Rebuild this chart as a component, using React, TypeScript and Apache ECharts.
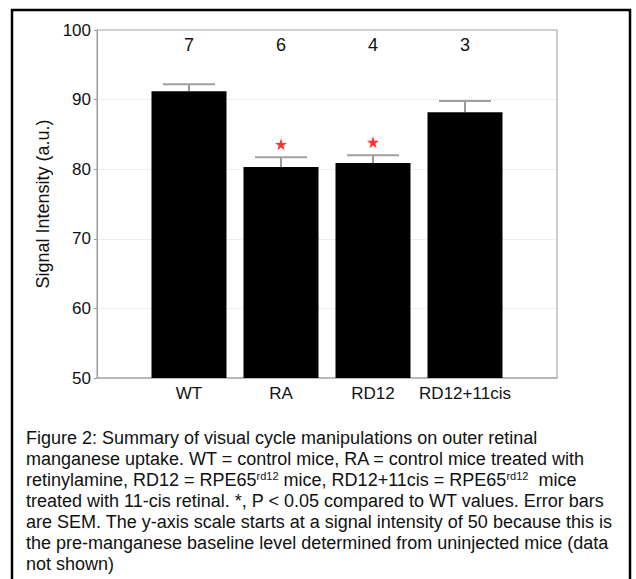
import React, { useEffect, useRef } from 'react';
import * as echarts from 'echarts';

// ---- data ----
const categories = ['WT', 'RA', 'RD12', 'RD12+11cis'];
const means = [91.2, 80.3, 80.9, 88.2];
const sems = [1.0, 1.4, 1.1, 1.6];
const nCounts = [7, 6, 4, 3];
const significant = [false, true, true, false];
const yMin = 50;
const yMax = 100;
const yInterval = 10;
const yTitle = 'Signal Intensity (a.u.)';
const captionLines = [
  'Figure 2: Summary of visual cycle manipulations on outer retinal',
  'manganese uptake. WT = control mice, RA = control mice treated with',
  'retinylamine, RD12 = RPE65{sup|rd12} mice, RD12+11cis = RPE65{sup|rd12}  mice',
  'treated with 11-cis retinal. *, P < 0.05 compared to WT values. Error bars',
  'are SEM. The y-axis scale starts at a signal intensity of 50 because this is',
  'the pre-manganese baseline level determined from uninjected mice (data',
  'not shown)',
];

const STAR =
  'path://M50,0 L61.2,34.5 L97.6,34.5 L68.2,55.9 L79.4,90.5 L50,69.1 L20.6,90.5 L31.8,55.9 L2.4,34.5 L38.8,34.5 Z';

export default function App() {
  const ref = useRef<HTMLDivElement>(null);
  useEffect(() => {
    document.body.style.margin = '0';
    const chart = echarts.init(ref.current!, null, { renderer: 'svg' });
    const font = "'Liberation Sans', Arial, sans-serif";
    const xs = categories.map((_, i) => i + 1);
    chart.setOption({
      animation: false,
      backgroundColor: '#ffffff',
      grid: {
        left: 97,
        top: 30,
        right: 79,
        bottom: 201,
        show: true,
        borderColor: '#9a9a9a',
        borderWidth: 1,
        backgroundColor: 'transparent',
      },
      xAxis: {
        type: 'value',
        min: 0,
        max: categories.length + 1,
        interval: 1,
        axisLine: { show: true, lineStyle: { color: '#b0b0b0', width: 1.5 } },
        axisTick: { show: false },
        splitLine: { show: false },
        axisLabel: {
          formatter: (v: number) => categories[v - 1] ?? '',
          fontSize: 17,
          color: '#111',
          margin: 7,
          fontFamily: font,
        },
      },
      yAxis: {
        type: 'value',
        min: yMin,
        max: yMax,
        interval: yInterval,
        name: yTitle,
        nameLocation: 'middle',
        nameGap: 40,
        nameTextStyle: { fontSize: 18, color: '#111', fontFamily: font },
        axisLine: { show: true, lineStyle: { color: '#9a9a9a' } },
        axisTick: { show: true, length: 3, lineStyle: { color: '#9a9a9a' } },
        splitLine: { show: true, lineStyle: { color: '#dedede', type: 'dotted' } },
        axisLabel: { fontSize: 17, color: '#111', margin: 6, fontFamily: font },
      },
      series: [
        {
          type: 'bar',
          data: xs.map((x, i) => [x, means[i]]),
          barWidth: 75,
          itemStyle: { color: '#000000' },
          z: 2,
        },
        {
          type: 'custom',
          data: xs.map((x, i) => [x, means[i], sems[i]]),
          z: 3,
          renderItem: (_p: any, api: any) => {
            const x = api.value(0);
            const m = api.value(1);
            const s = api.value(2);
            const b = api.coord([x, m]);
            const t = api.coord([x, m + s]);
            return {
              type: 'group',
              children: [
                {
                  type: 'line',
                  shape: { x1: b[0], y1: b[1], x2: t[0], y2: t[1] },
                  style: { stroke: '#777777', lineWidth: 1.5 },
                },
                {
                  type: 'line',
                  shape: { x1: t[0] - 26, y1: t[1], x2: t[0] + 26, y2: t[1] },
                  style: { stroke: '#a0a0a0', lineWidth: 2 },
                },
              ],
            };
          },
        },
        {
          type: 'scatter',
          data: xs
            .map((x, i) => [x, means[i] + sems[i]])
            .filter((_, i) => significant[i]),
          symbol: STAR,
          symbolSize: 12,
          symbolOffset: [0, -13],
          itemStyle: { color: '#ff0000' },
          z: 4,
        },
        {
          type: 'custom',
          data: xs.map((x, i) => [x, nCounts[i]]),
          z: 4,
          renderItem: (_p: any, api: any) => {
            const c = api.coord([api.value(0), yMax]);
            return {
              type: 'text',
              x: c[0],
              y: c[1] + 15,
              style: {
                text: String(api.value(1)),
                fontSize: 18,
                fontFamily: font,
                fill: '#111',
                align: 'center',
                verticalAlign: 'middle',
              },
            };
          },
        },
      ],
      graphic: [
        {
          type: 'rect',
          shape: { x: 12, y: 10, width: 618, height: 620 },
          style: { fill: 'none', stroke: '#000', lineWidth: 2.5 },
          z: 100,
        },
        ...captionLines.map((line, i) => ({
          type: 'text',
          x: 26,
          y: 437.5 + i * 21,
          style: {
            text: line,
            fontSize: 18,
            fontFamily: font,
            fill: '#111',
            verticalAlign: 'middle',
            rich: {
              sup: { fontSize: 11, fontFamily: font, fill: '#111', verticalAlign: 'top', lineHeight: 11 },
            },
          },
          z: 100,
        })),
      ],
    });
    return () => chart.dispose();
  }, []);
  return <div ref={ref} style={{ width: 636, height: 579 }} />;
}
